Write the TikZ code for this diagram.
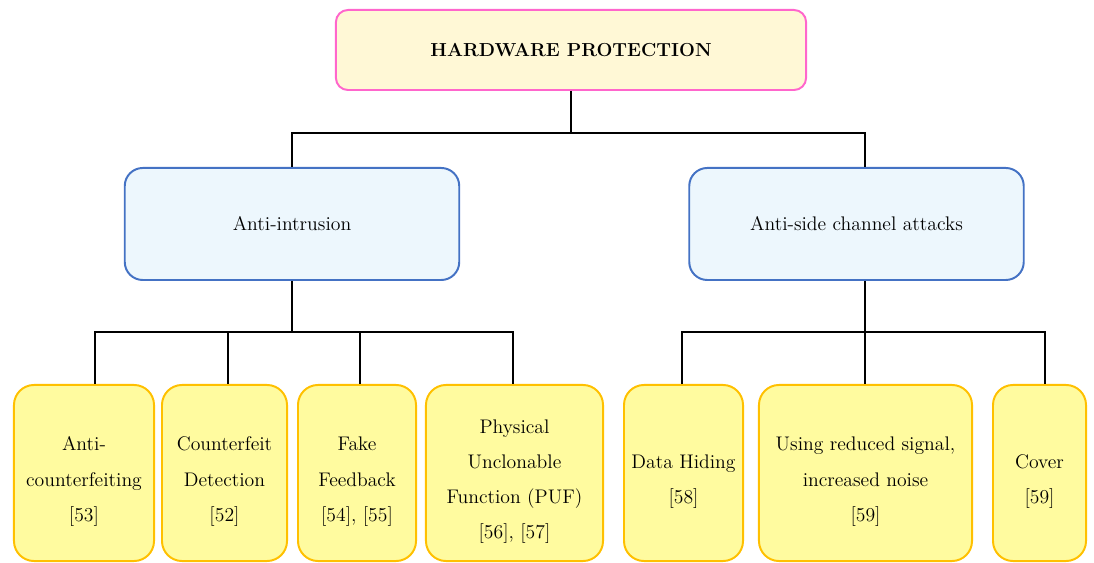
\documentclass[tikz,border=0pt]{standalone}
\usepackage{tikz}
\usetikzlibrary{positioning}

\definecolor{rootfill}{HTML}{FFF8D6}
\definecolor{rootline}{HTML}{FF66CC}
\definecolor{midfill}{HTML}{EDF7FD}
\definecolor{midline}{HTML}{4472C4}
\definecolor{leaffill}{HTML}{FFFB9F}
\definecolor{leafline}{HTML}{FFC000}
\newcommand{\topgap}{\rule{0pt}{22pt}}

\begin{document}
\begin{tikzpicture}[
x=0.025cm, y=-0.025cm,
rootnode/.style={rectangle, draw=rootline, fill=rootfill, line width=1.4pt, rounded corners=0.3cm, minimum width=11.75cm, minimum height=2cm, font=\bfseries\fontsize{13.4}{16}\selectfont},
midnode/.style={rectangle, draw=midline, fill=midfill, line width=1.4pt, rounded corners=0.45cm, minimum width=8.36cm, minimum height=2.8cm, font=\fontsize{14}{16}\selectfont},
leafnode/.style={rectangle, draw=leafline, fill=leaffill, line width=1.4pt, rounded corners=0.5cm, minimum height=4.4cm, align=center, inner sep=1pt, font=\fontsize{14}{25}\selectfont},
link/.style={draw, line width=1.8pt}
]
\useasboundingbox (0,0) rectangle (1094,563);

%Nodes
\node[rootnode] (hw)    at (571,50)    {HARDWARE PROTECTION};
\node[midnode]  (intr)  at (292,224)   {Anti-intrusion};
\node[midnode]  (side)  at (856.5,224) {Anti-side channel attacks};

\node[leafnode, minimum width=3.5cm]   (anticf) at (84,473)    {\topgap Anti-\\counterfeiting\\{}[53]};
\node[leafnode, minimum width=3.125cm] (cfdet)  at (224.5,473) {\topgap Counterfeit\\Detection\\{}[52]};
\node[leafnode, minimum width=2.95cm]  (fake)   at (357,473)   {\topgap Fake\\Feedback\\{}[54], [55]};
\node[leafnode, minimum width=4.425cm] (puf)    at (514.5,473) {\topgap Physical\\Unclonable\\Function (PUF)\\{}[56], [57]};
\node[leafnode, minimum width=2.975cm] (hiding) at (683.5,473) {\topgap Data Hiding\\{}[58]};
\node[leafnode, minimum width=5.325cm] (noise)  at (865.5,473) {\topgap Using reduced signal,\\increased noise\\{}[59]};
\node[leafnode, minimum width=2.325cm] (cover)  at (1039.5,473) {\topgap Cover\\{}[59]};

\coordinate (topbus)   at (571,133);
\coordinate (leftbus)  at (292,332);
\coordinate (rightbus) at (865,332);

%Lines
\draw[link] (hw.south) -- (topbus);
\draw[link] (topbus) -| (intr.north);
\draw[link] (topbus) -| (rightbus |- side.north);

\draw[link] (intr.south) -- (leftbus);
\draw[link] (leftbus) -| ([xshift=0.275cm]anticf.north);
\draw[link] (leftbus) -| ([xshift=0.09cm]cfdet.north);
\draw[link] (leftbus) -| ([xshift=0.08cm]fake.north);
\draw[link] (leftbus) -| ([xshift=-0.04cm]puf.north);

\draw[link] (rightbus |- side.south) -- (rightbus);
\draw[link] (rightbus) -| ([xshift=-0.04cm]hiding.north);
\draw[link] (rightbus) -- (rightbus |- noise.north);
\draw[link] (rightbus) -| ([xshift=0.14cm]cover.north);

\end{tikzpicture}
\end{document}
